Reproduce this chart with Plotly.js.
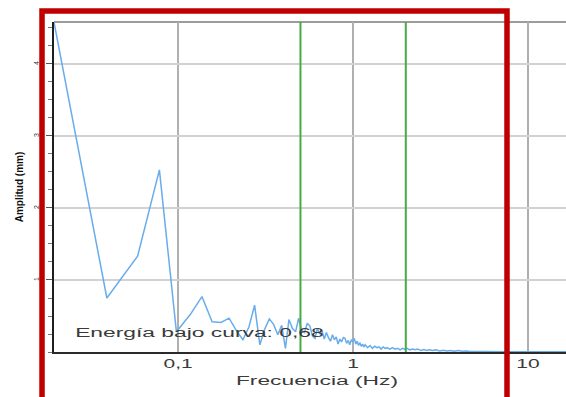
<!DOCTYPE html>
<html>
<head>
<meta charset="utf-8">
<script src="https://cdn.plot.ly/plotly-3.0.1.min.js"></script>
<style>
  html, body { margin: 0; padding: 0; background: #fff; overflow: hidden; width: 566px; height: 397px; }
  #chart { width: 580px; height: 397px; }
</style>
</head>
<body>
<div id="chart"></div>
<script>
// ---- data ----
const FREQ_HZ = [
  0.0195, 0.0391, 0.0586, 0.0781, 0.0977, 0.1172, 0.1367, 0.1563, 0.1758, 0.1953,
  0.2148, 0.2344, 0.2539, 0.2734, 0.2930, 0.3125, 0.3320, 0.3516, 0.3711, 0.3906,
  0.4102, 0.4297, 0.4492, 0.4688, 0.4883, 0.5078, 0.5273, 0.5469, 0.5664, 0.5859,
  0.6055, 0.6250, 0.6445, 0.6641, 0.6836, 0.7031, 0.7227, 0.7422, 0.7617, 0.7813,
  0.8008, 0.8203, 0.8398, 0.8594, 0.8789, 0.8984, 0.9180, 0.9375, 0.9570, 0.9766,
  0.9961, 1.0156, 1.0352, 1.0547, 1.0742, 1.0938, 1.1133, 1.1328, 1.1523, 1.1719,
  1.2109, 1.2500, 1.2891, 1.3281, 1.3672, 1.4063, 1.4453, 1.4844, 1.5234, 1.5625,
  1.6211, 1.6797, 1.7383, 1.7969, 1.8555, 1.9141, 1.9727, 2.0313, 2.1094, 2.1875,
  2.2656, 2.3438, 2.4414, 2.5391, 2.6367, 2.7344, 2.8516, 2.9688, 3.1250, 3.2813,
  3.4375, 3.5938, 3.7891, 3.9844, 4.2188, 4.4531, 4.6875, 5.0000, 5.3125, 5.6641,
  6.0547, 6.6406, 7.4219, 8.2031, 9.1797, 10.000, 10.938, 12.109, 13.672, 15.625,
  18.750, 25.000
];
const AMPLITUDE_MM = [
  4.58, 0.75, 1.33, 2.53, 0.28, 0.52, 0.77, 0.42, 0.41, 0.47,
  0.30, 0.17, 0.35, 0.65, 0.10, 0.32, 0.46, 0.38, 0.24, 0.37,
  0.05, 0.45, 0.33, 0.28, 0.47, 0.30, 0.27, 0.40, 0.36, 0.22,
  0.19, 0.33, 0.25, 0.30, 0.18, 0.27, 0.20, 0.15, 0.24, 0.17,
  0.21, 0.11, 0.18, 0.14, 0.20, 0.19, 0.12, 0.16, 0.10, 0.17,
  0.14, 0.19, 0.11, 0.15, 0.09, 0.13, 0.08, 0.11, 0.07, 0.10,
  0.06, 0.09, 0.05, 0.08, 0.06, 0.07, 0.04, 0.07, 0.05, 0.06,
  0.04, 0.06, 0.04, 0.05, 0.03, 0.05, 0.04, 0.05, 0.03, 0.04,
  0.03, 0.04, 0.02, 0.035, 0.02, 0.03, 0.02, 0.03, 0.015, 0.025,
  0.015, 0.02, 0.01, 0.02, 0.01, 0.015, 0.008, 0.012, 0.006, 0.008,
  0.005, 0.006, 0.004, 0.005, 0.004, 0.004, 0.003, 0.003, 0.006, 0.003,
  0.002, 0.002
];
const BAND_LIMITS_HZ = [0.5, 2];
const X_TICK_VALUES = [0.1, 1, 10];
const X_TICK_LABELS = ['0,1', '1', '10'];
const Y_TICK_VALUES = [1, 2, 3, 4];
const Y_TICK_LABELS = ['1', '2', '3', '4'];
const X_TITLE = 'Frecuencia (Hz)';
const Y_TITLE = 'Amplitud (mm)';
const ENERGY_LABEL = 'Energía bajo curva: 0,68';

const TEXT_FONT = 'Liberation Sans, Arial, sans-serif';

const data = [{
  type: 'scatter',
  mode: 'lines',
  x: FREQ_HZ,
  y: AMPLITUDE_MM,
  line: { color: 'rgb(105,172,235)', width: 1.5 },
  hoverinfo: 'x+y'
}];

const shapes = BAND_LIMITS_HZ.map(f => ({
  type: 'line', xref: 'x', yref: 'paper',
  x0: f, x1: f, y0: 0, y1: 1,
  line: { color: 'rgb(70,170,70)', width: 2 }, layer: 'above'
}));
// top frame line of the plot area
shapes.push({
  type: 'line', xref: 'paper', yref: 'paper', x0: 0, x1: 1, y0: 1, y1: 1,
  line: { color: '#9c9c9c', width: 2 }, layer: 'below'
});
// red highlight frame
shapes.push({
  type: 'rect', xref: 'paper', yref: 'paper',
  x0: -0.0228, x1: 0.8612, y0: -0.20, y1: 1.0333,
  line: { color: 'rgb(192,0,0)', width: 5.5 }, fillcolor: 'rgba(0,0,0,0)', layer: 'above'
});

const layout = {
  width: 580, height: 397,
  margin: { l: 54, r: 0, t: 22, b: 45 },
  paper_bgcolor: '#fff', plot_bgcolor: '#fff',
  showlegend: false,
  font: { family: TEXT_FONT, color: '#3a3a3a', size: 12 },
  xaxis: {
    type: 'log',
    range: [Math.log10(FREQ_HZ[0]), 1.297],
    tickmode: 'array', tickvals: X_TICK_VALUES, ticktext: X_TICK_LABELS,
    ticks: '', showgrid: true, gridcolor: '#b0b0b0', gridwidth: 2,
    showline: true, linecolor: '#2a2a2a', linewidth: 2,
    zeroline: false,
    tickfont: { family: TEXT_FONT, size: 12, color: '#3a3a3a' },
    title: { text: X_TITLE, font: { family: TEXT_FONT, size: 12, color: '#3a3a3a' }, standoff: 6 }
  },
  yaxis: {
    range: [0, 4.583],
    tickmode: 'array', tickvals: Y_TICK_VALUES, ticktext: Y_TICK_LABELS,
    ticks: 'outside', ticklen: 6, tickcolor: '#555', tickwidth: 1,
    minor: { tickmode: 'linear', tick0: 0, dtick: 0.25, ticks: 'outside', ticklen: 4, tickcolor: '#777', showgrid: false },
    tickangle: -90,
    ticklabelstandoff: 4,
    showgrid: true, gridcolor: '#d2d2d2', gridwidth: 2,
    showline: true, linecolor: '#1e1e1e', linewidth: 2.5,
    zeroline: false,
    tickfont: { family: TEXT_FONT, size: 7, color: '#333' },
    title: { text: Y_TITLE, font: { family: TEXT_FONT, size: 10, color: '#111', weight: 'bold' }, standoff: 7 }
  },
  annotations: [{
    xref: 'paper', yref: 'paper', x: 0.2766, y: 0.0576,
    xanchor: 'center', yanchor: 'middle', showarrow: false,
    text: ENERGY_LABEL,
    font: { family: TEXT_FONT, size: 12, color: '#3a3a3a' }
  }],
  shapes: shapes
};

Plotly.newPlot('chart', data, layout, { displayModeBar: false, staticPlot: true }).then(gd => {
  // the reference's text is horizontally stretched; widen the same text glyphs
  const stretch = (sel, f) => gd.querySelectorAll(sel).forEach(t => {
    const w = t.getComputedTextLength();
    if (w > 0) {
      t.setAttribute('textLength', (w * f).toFixed(1));
      t.setAttribute('lengthAdjust', 'spacingAndGlyphs');
    }
  });
  stretch('.xtick text', 1.75);
  stretch('.g-xtitle text', 1.9);
  stretch('.annotation-text', 1.9);
});
</script>
</body>
</html>
